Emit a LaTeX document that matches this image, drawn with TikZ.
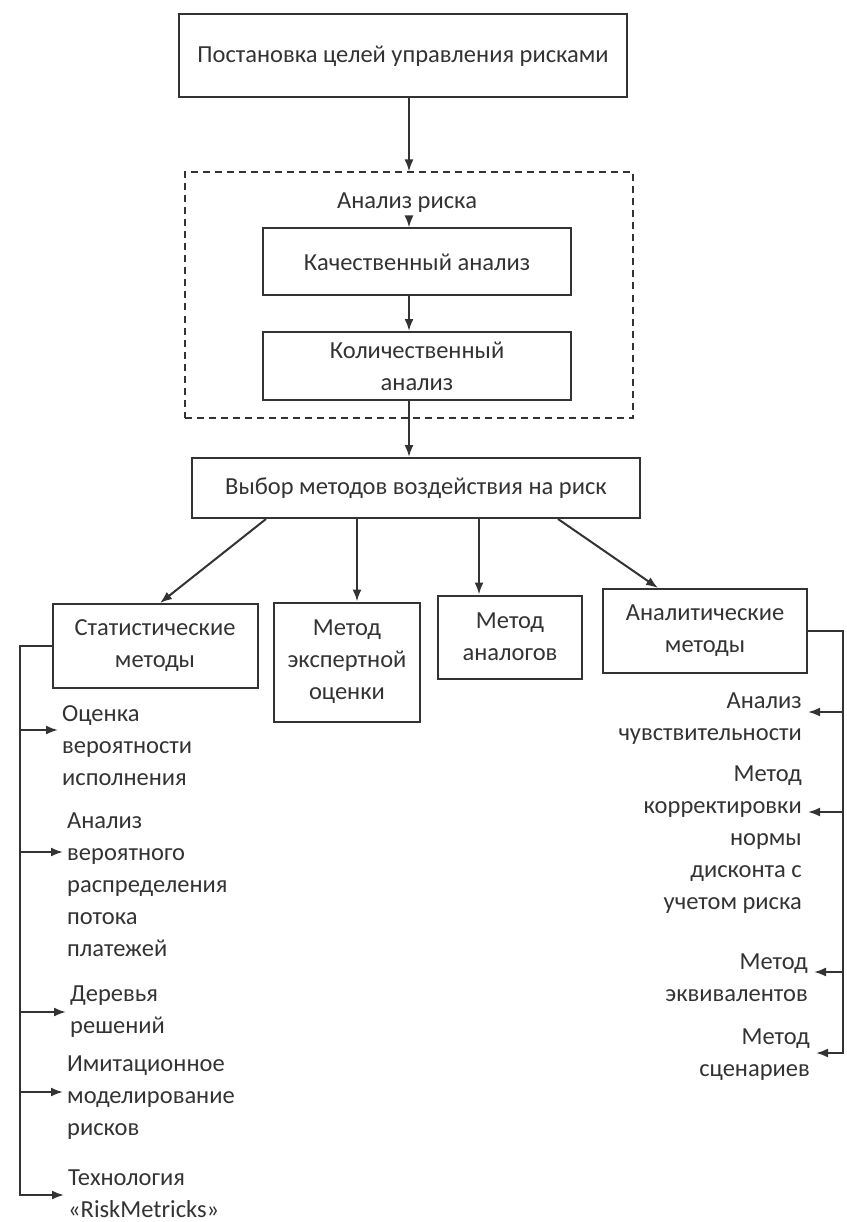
\documentclass[tikz,border=0pt]{standalone}
\usepackage{fontspec}
\setmainfont{Carlito}
\usetikzlibrary{arrows.meta}
\begin{document}
\begin{tikzpicture}[x=1pt,y=-1pt]
\tikzset{
  every node/.style={font=\fontsize{24.5}{32}\selectfont, text=black!80},
  box/.style={draw=black!80, line width=2pt, inner sep=0pt, align=center},
  frame/.style={draw=black!80, line width=2pt, dash pattern=on 7pt off 5pt, inner sep=0pt},
  stitem/.style={anchor=north west, align=left, inner xsep=4pt, inner ysep=0pt},
  anitem/.style={anchor=north east, align=right, inner xsep=6pt, inner ysep=0pt},
  conn/.style={draw=black!80, line width=2pt, -{Latex[length=12pt,width=9pt]}}
}
\useasboundingbox (0,0) rectangle (846,1222);

\node[box, minimum width=448, minimum height=83] (goal) at (403,56)
  {Постановка целей управления рисками};
\node[frame, minimum width=448, minimum height=245] (ar) at (409,295) {};
\node (arlabel) at (407,203) {Анализ риска};
\node[box, minimum width=308, minimum height=67] (qual) at (417,262)
  {Качественный анализ};
\node[box, minimum width=308, minimum height=68] (quant) at (417,366)
  {Количественный\\анализ};
\node[box, minimum width=448, minimum height=60] (choice) at (416,488)
  {Выбор методов воздействия на риск};

\node[box, minimum width=205, minimum height=84] (stat) at (155,646)
  {Статистические\\методы};
\node[box, minimum width=146, minimum height=119] (expert) at (347,662)
  {Метод\\экспертной\\оценки};
\node[box, minimum width=144, minimum height=83] (analog) at (510,637)
  {Метод\\аналогов};
\node[box, minimum width=204, minimum height=84] (anal) at (705,631)
  {Аналитические\\методы};

\node[stitem] (st1) at (58,699) {\strut Оценка\\вероятности\\исполнения};
\node[stitem] (st2) at (63,806) {\strut Анализ\\вероятного\\распределения\\потока\\платежей};
\node[stitem] (st3) at (66,979) {\strut Деревья\\решений};
\node[stitem] (st4) at (63,1049) {\strut Имитационное\\моделирование\\рисков};
\node[stitem] (st5) at (64,1163) {\strut Технология\\«RiskMetricks»};

\node[anitem] (an1) at (808,686) {\strut Анализ\\чувствительности};
\node[anitem] (an2) at (808,759) {\strut Метод\\корректировки\\нормы\\дисконта с\\учетом риска};
\node[anitem] (an3) at (814,947) {\strut Метод\\эквивалентов};
\node[anitem] (an4) at (816,1022) {\strut Метод\\сценариев};

\coordinate (axis) at (409,0);
\coordinate (c2) at (357,0);
\coordinate (c3) at (479,0);
\coordinate (la1) at (20,730);
\coordinate (la2) at (20,852);
\coordinate (la3) at (20,1012);
\coordinate (la4) at (20,1092);
\coordinate (la5) at (20,1195);
\coordinate (ra1) at (843,712);
\coordinate (ra2) at (843,812);
\coordinate (ra3) at (843,972);
\coordinate (ra4) at (843,1053);

\draw[conn] (goal.south -| axis) -- (ar.north -| axis);
\draw[conn] (arlabel.south -| axis) -- (qual.north -| axis);
\draw[conn] (qual.south -| axis) -- (quant.north -| axis);
\draw[conn] (quant.south -| axis) -- (choice.north -| axis);

\draw[conn] ([xshift=75pt]choice.south west) -- ([xshift=5pt]stat.north);
\draw[conn] (choice.south -| c2) -- (expert.north -| c2);
\draw[conn] (choice.south -| c3) -- (analog.north -| c3);
\draw[conn] ([xshift=-83pt]choice.south east) -- ([xshift=-47pt]anal.north);

\draw[conn] (stat.west) -| (la5) -- (la5 -| st5.west);
\draw[conn] (la1) -- (la1 -| st1.west);
\draw[conn] (la2) -- (la2 -| st2.west);
\draw[conn] (la3) -- (la3 -| st3.west);
\draw[conn] (la4) -- (la4 -| st4.west);

\draw[conn] (anal.east) -| (ra4) -- (ra4 -| an4.east);
\draw[conn] (ra1) -- (ra1 -| an1.east);
\draw[conn] (ra2) -- (ra2 -| an2.east);
\draw[conn] (ra3) -- (ra3 -| an3.east);
\end{tikzpicture}
\end{document}
